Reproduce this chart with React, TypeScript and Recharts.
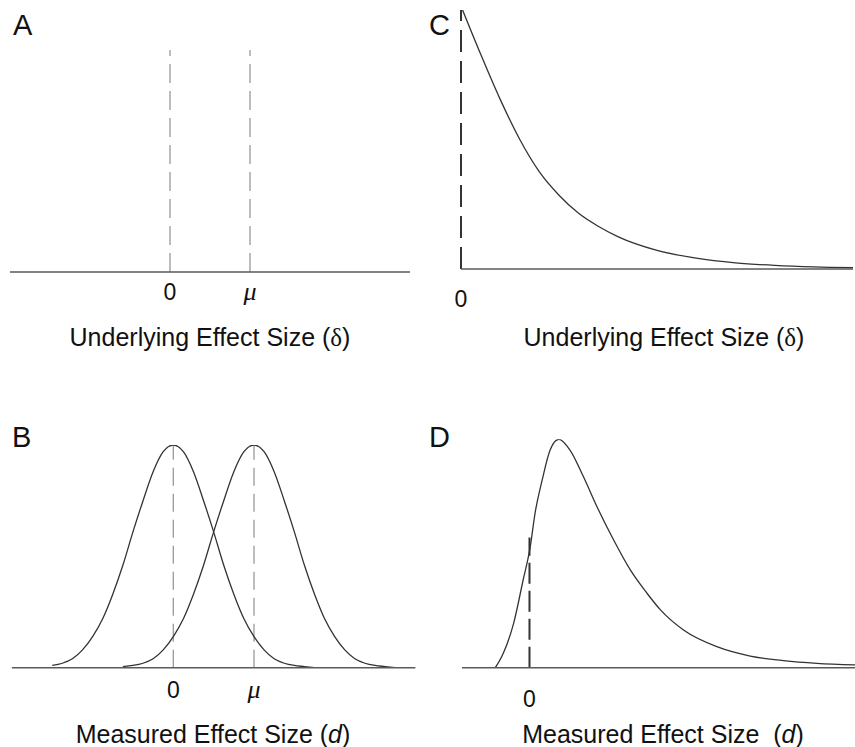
import { LineChart, Line, XAxis, YAxis, ReferenceLine } from "recharts"

// A: underlying effect size is a point mass (null at 0, true effect at mu)
const aSpikes = [0, 1]
const abTicks = [0, 1]
const abTickLabels = ["0", "μ"]

// B: measured d, sampling distributions around 0 and around mu
const bX = [
  -1.5, -1.375, -1.25, -1.125, -1, -0.875, -0.75, -0.625, -0.5, -0.375, -0.25, -0.125, 0, 0.125, 0.25, 0.375,
  0.5, 0.625, 0.75, 0.875, 1, 1.125, 1.25, 1.375, 1.5, 1.625, 1.75, 1.875, 2, 2.125, 2.25, 2.375, 2.5, 2.625, 2.75,
]
const bNull = [
  0.01, 0.02, 0.04, 0.08, 0.14, 0.22, 0.33, 0.46, 0.61, 0.75, 0.88, 0.97, 1, 0.97, 0.88, 0.75, 0.61, 0.46, 0.33,
  0.22, 0.14, 0.08, 0.04, 0.02, 0.01, 0.005, 0, null, null, null, null, null, null, null, null,
]
const bTrue = [
  null, null, null, null, null, null, null, 0.005, 0.01, 0.02, 0.04, 0.08, 0.14, 0.22, 0.33, 0.46, 0.61, 0.75,
  0.88, 0.97, 1, 0.97, 0.88, 0.75, 0.61, 0.46, 0.33, 0.22, 0.14, 0.08, 0.04, 0.02, 0.01, 0.005, 0,
]

// C: underlying effect sizes spread over positive values
const cX = [0.02, 0.25, 0.5, 0.75, 1, 1.25, 1.5, 1.75, 2, 2.5, 3, 3.5, 4, 4.5, 5]
const cY = [1.0, 0.83, 0.655, 0.5, 0.375, 0.285, 0.215, 0.165, 0.125, 0.072, 0.042, 0.024, 0.014, 0.008, 0.005]
const cTicks = [0]
const cTickLabels = ["0"]

// D: resulting distribution of measured d
const dX = [
  -0.43, -0.33, -0.2, -0.08, 0.01, 0.07, 0.16, 0.26, 0.37, 0.51, 0.68, 0.85, 1.06, 1.27, 1.48, 1.65, 1.94, 2.36,
  2.78, 3.2, 3.62, 4.1,
]
const dY = [
  0, 0.063, 0.194, 0.384, 0.53, 0.676, 0.822, 0.953, 1.0, 0.953, 0.836, 0.705, 0.559, 0.428, 0.326, 0.253, 0.165,
  0.092, 0.051, 0.031, 0.019, 0.012,
]
const dZeroHeight = 0.57

const sans = "'Liberation Sans', Arial, sans-serif"
const serif = "'Liberation Serif', 'Times New Roman', serif"
const axisLine = { stroke: "#5a5a5a", strokeWidth: 1.5 }

const aRows = aSpikes.map((x) => ({ x, h: 1 }))
const bRows = bX.map((x, i) => ({ x, nul: bNull[i], tru: bTrue[i] }))
const cRows = cX.map((x, i) => ({ x, y: cY[i] }))
const dRows = dX.map((x, i) => ({ x, y: dY[i] }))

function makeTick(ticks: number[], labels: string[], dy: number) {
  return (props: any) => {
    const { x, y, payload } = props
    const text = labels[ticks.indexOf(payload.value)]
    const mu = text === "μ"
    return (
      <text
        x={x}
        y={y + dy}
        textAnchor="middle"
        fontFamily={mu ? serif : sans}
        fontStyle={mu ? "italic" : "normal"}
        fontSize={mu ? 26 : 23}
        fill="#111"
      >
        {text}
      </text>
    )
  }
}

const letter = (t: string, left: number, top: number) => (
  <div style={{ position: "absolute", left, top, fontFamily: sans, fontSize: 29, lineHeight: "29px", color: "#111" }}>
    {t}
  </div>
)

const title = (center: number, top: number, content: any) => (
  <div
    style={{
      position: "absolute",
      left: center - 200,
      top,
      width: 400,
      textAlign: "center",
      fontFamily: sans,
      fontSize: 25,
      lineHeight: "25px",
      color: "#111",
      whiteSpace: "nowrap",
    }}
  >
    {content}
  </div>
)

export default function App() {
  return (
    <div style={{ position: "absolute", left: 0, top: 0, width: 855, height: 747, background: "#fff" }}>
      {/* A */}
      <div style={{ position: "absolute", left: 0, top: 0 }}>
        <LineChart width={430} height={380} data={aRows} margin={{ top: 50, right: 20, left: 10, bottom: 78 }}>
          <XAxis
            dataKey="x"
            type="number"
            domain={[-2, 3]}
            allowDataOverflow
            ticks={abTicks}
            interval={0}
            tickLine={false}
            tickSize={0}
            tickMargin={0}
            axisLine={axisLine}
            height={30}
            tick={makeTick(abTicks, abTickLabels, 28)}
          />
          <YAxis hide domain={[0, 1]} allowDataOverflow />
          <Line dataKey="h" stroke="none" dot={false} activeDot={false} isAnimationActive={false} />
          {aSpikes.map((s) => (
            <ReferenceLine key={s} x={s} stroke="#9a9a9a" strokeWidth={1.3} strokeDasharray="19 8" />
          ))}
        </LineChart>
      </div>

      {/* C */}
      <div style={{ position: "absolute", left: 430, top: 0 }}>
        <LineChart width={425} height={380} data={cRows} margin={{ top: 10, right: 2, left: 31, bottom: 81 }}>
          <XAxis
            dataKey="x"
            type="number"
            domain={[0, 5]}
            allowDataOverflow
            ticks={cTicks}
            interval={0}
            tickLine={false}
            tickSize={0}
            tickMargin={0}
            axisLine={axisLine}
            height={30}
            tick={makeTick(cTicks, cTickLabels, 38)}
          />
          <YAxis hide domain={[0, 1]} allowDataOverflow />
          <ReferenceLine x={0} stroke="#333" strokeWidth={2} strokeDasharray="22 9" />
          <Line type="monotone" dataKey="y" stroke="#333" strokeWidth={1.3} dot={false} isAnimationActive={false} />
        </LineChart>
      </div>

      {/* B */}
      <div style={{ position: "absolute", left: 0, top: 380 }}>
        <LineChart width={430} height={367} data={bRows} margin={{ top: 65, right: 14.6, left: 11.9, bottom: 49.3 }}>
          <XAxis
            dataKey="x"
            type="number"
            domain={[-2, 3]}
            allowDataOverflow
            ticks={abTicks}
            interval={0}
            tickLine={false}
            tickSize={0}
            tickMargin={0}
            axisLine={axisLine}
            height={30}
            tick={makeTick(abTicks, abTickLabels, 30)}
          />
          <YAxis hide domain={[0, 1]} allowDataOverflow />
          {abTicks.map((s) => (
            <ReferenceLine key={s} x={s} stroke="#9a9a9a" strokeWidth={1.3} strokeDasharray="18 8" />
          ))}
          <Line type="monotone" dataKey="nul" stroke="#333" strokeWidth={1.3} dot={false} isAnimationActive={false} />
          <Line type="monotone" dataKey="tru" stroke="#333" strokeWidth={1.3} dot={false} isAnimationActive={false} />
        </LineChart>
      </div>

      {/* D */}
      <div style={{ position: "absolute", left: 430, top: 380 }}>
        <LineChart width={425} height={367} data={dRows} margin={{ top: 59.3, right: 0, left: 32, bottom: 49.3 }}>
          <XAxis
            dataKey="x"
            type="number"
            domain={[-0.85, 4.1]}
            allowDataOverflow
            ticks={cTicks}
            interval={0}
            tickLine={false}
            tickSize={0}
            tickMargin={0}
            axisLine={axisLine}
            height={30}
            tick={makeTick(cTicks, cTickLabels, 39)}
          />
          <YAxis hide domain={[0, 1]} allowDataOverflow />
          <ReferenceLine
            segment={[
              { x: 0, y: 0 },
              { x: 0, y: dZeroHeight },
            ]}
            stroke="#333"
            strokeWidth={2}
            strokeDasharray="21 7"
          />
          <Line type="monotone" dataKey="y" stroke="#333" strokeWidth={1.3} dot={false} isAnimationActive={false} />
        </LineChart>
      </div>

      {letter("A", 13, 11)}
      {letter("C", 429, 11)}
      {letter("B", 12, 423)}
      {letter("D", 429, 423)}

      {title(210, 325, <>Underlying Effect Size (<span style={{ fontFamily: serif }}>δ</span>)</>)}
      {title(664, 325, <>Underlying Effect Size (<span style={{ fontFamily: serif }}>δ</span>)</>)}
      {title(213, 722, <>Measured Effect Size (<i>d</i>)</>)}
      {title(663, 722, <>Measured Effect Size&nbsp; (<i>d</i>)</>)}
    </div>
  )
}
